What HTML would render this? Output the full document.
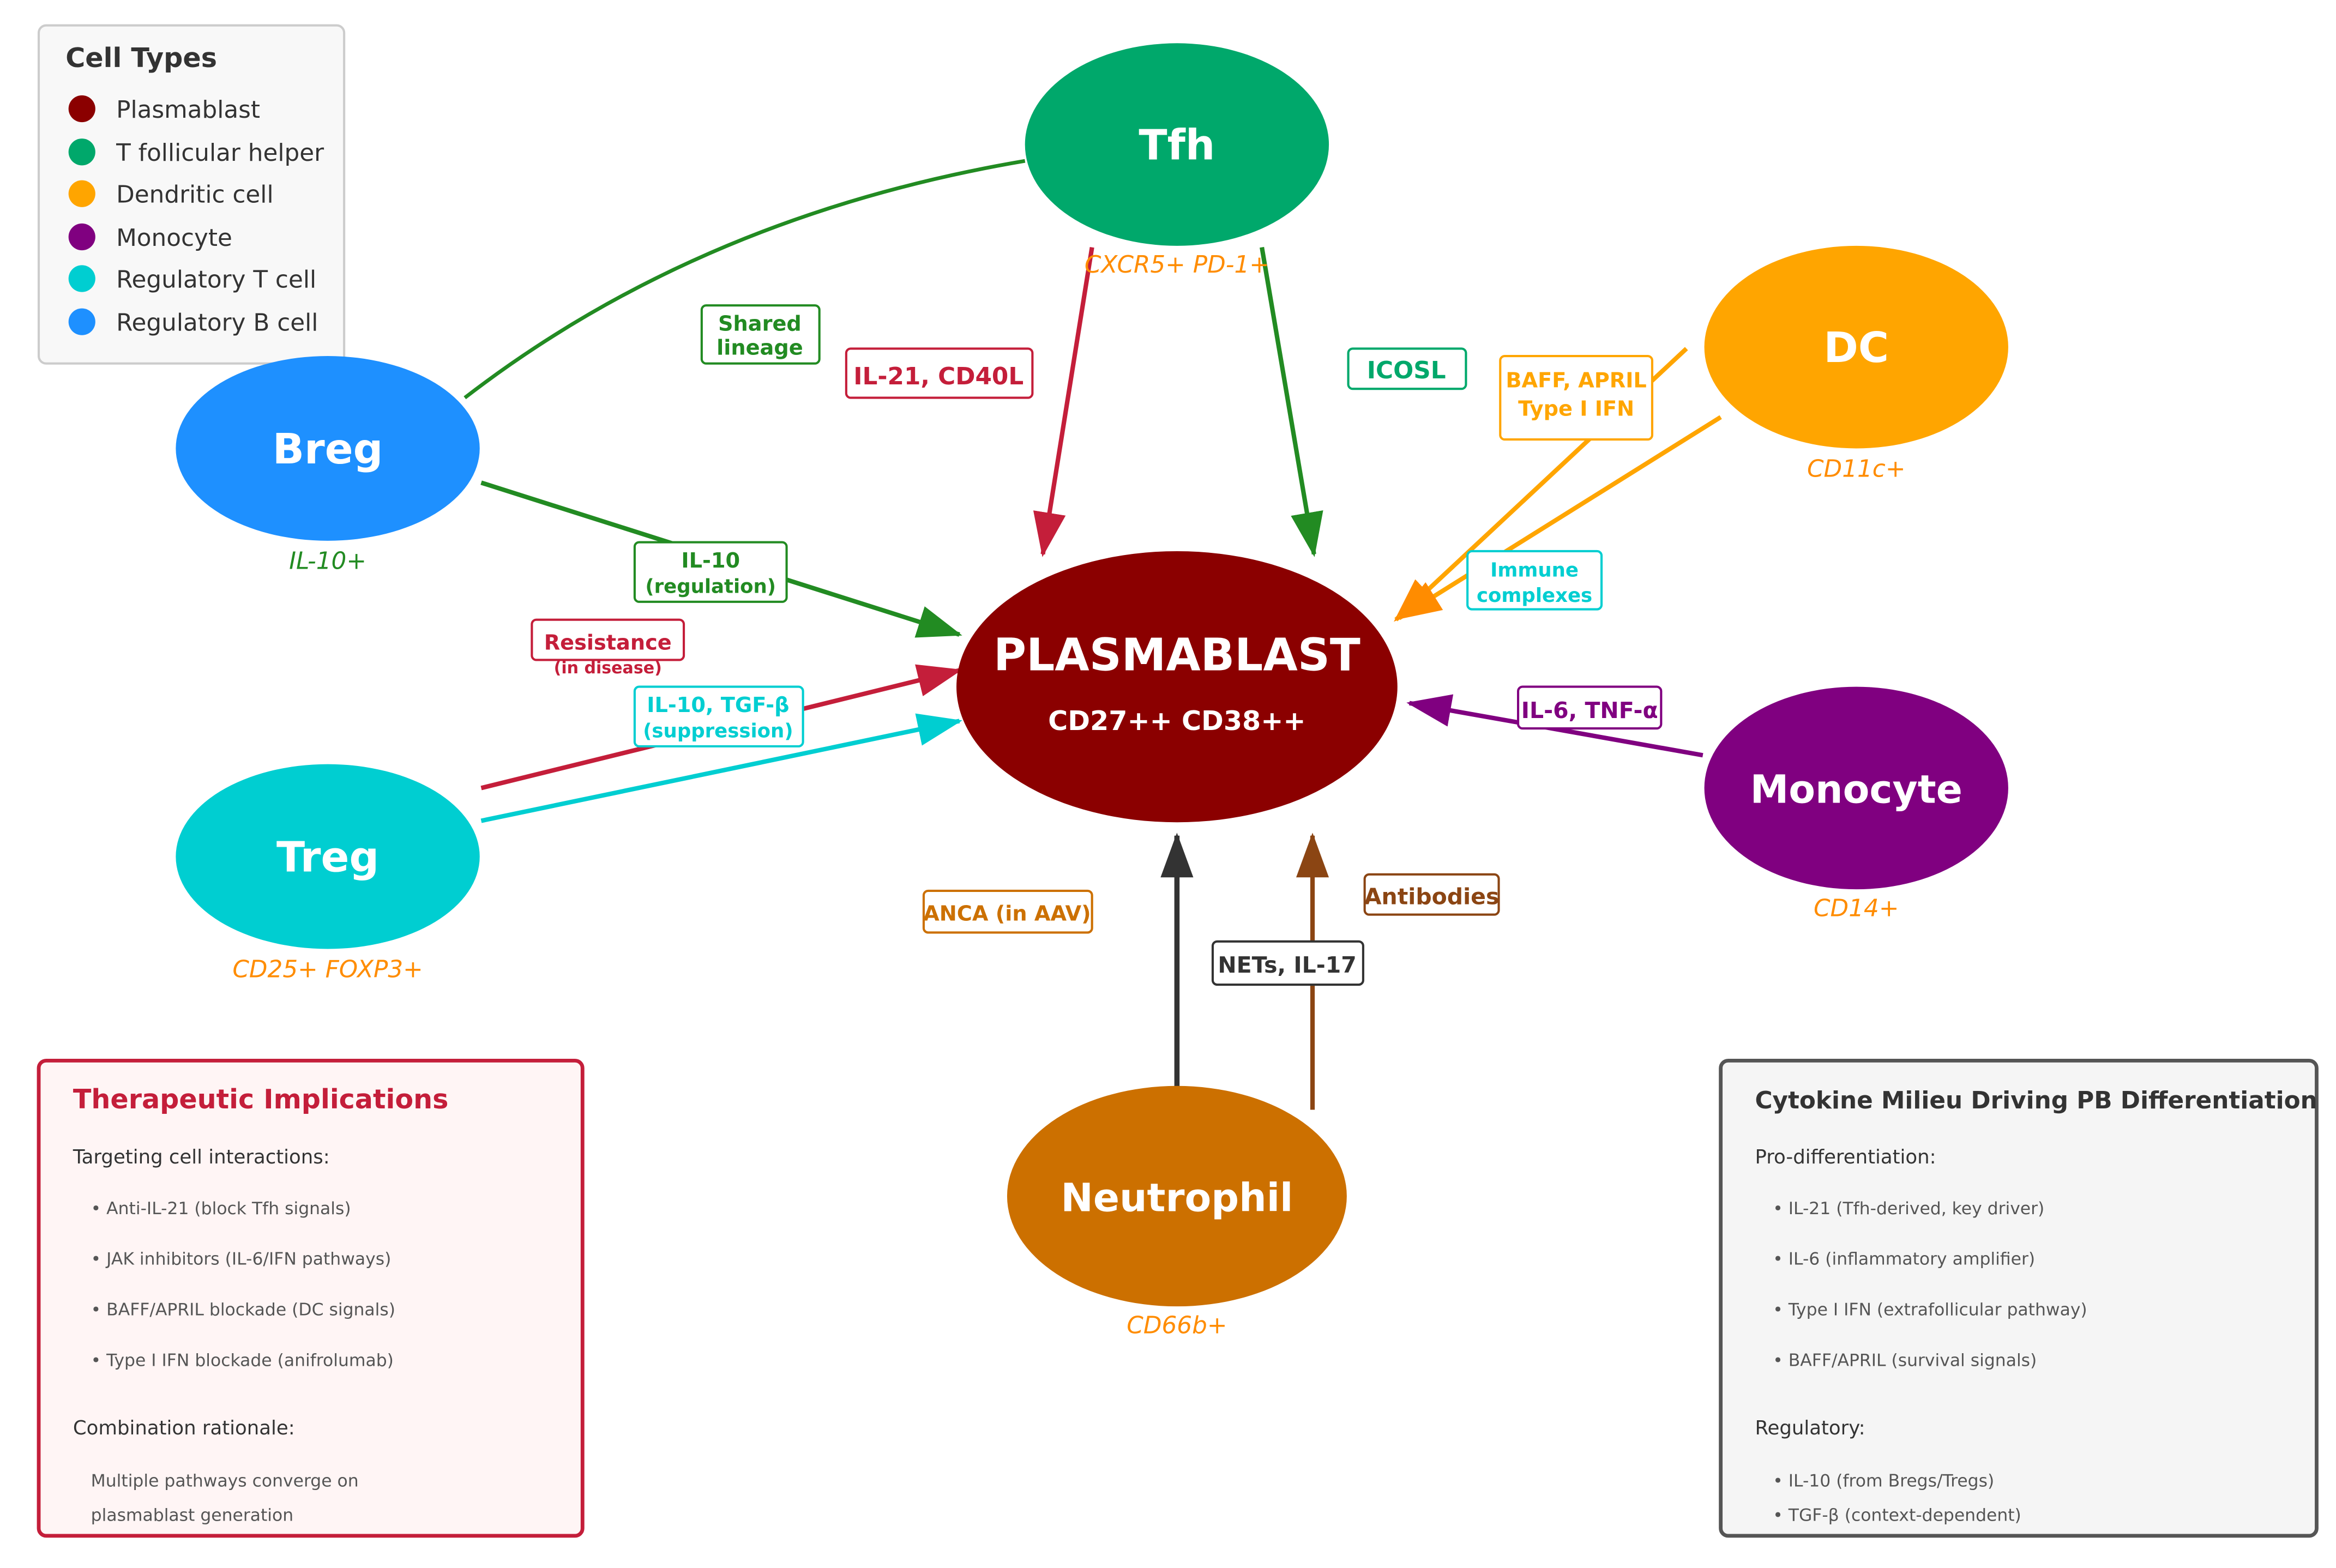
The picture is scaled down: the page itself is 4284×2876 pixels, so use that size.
<!DOCTYPE html>
<html><head><meta charset="utf-8"><style>html,body{margin:0;padding:0;background:#fff}svg{display:block}text{font-family:"DejaVu Sans","Liberation Sans",sans-serif}</style></head>
<body>
<svg width="4284" height="2876" viewBox="0 0 1568 1052.6" xmlns="http://www.w3.org/2000/svg">
<defs>
<marker id="aR" markerUnits="userSpaceOnUse" markerWidth="30" markerHeight="22" refX="28" refY="11" orient="auto"><path d="M0,0 L30,11 L0,22 Z" fill="#c41e3a"/></marker>
<marker id="aG" markerUnits="userSpaceOnUse" markerWidth="30" markerHeight="22" refX="28" refY="11" orient="auto"><path d="M0,0 L30,11 L0,22 Z" fill="#228b22"/></marker>
<marker id="aC" markerUnits="userSpaceOnUse" markerWidth="30" markerHeight="22" refX="28" refY="11" orient="auto"><path d="M0,0 L30,11 L0,22 Z" fill="#00ced1"/></marker>
<marker id="aO" markerUnits="userSpaceOnUse" markerWidth="30" markerHeight="22" refX="28" refY="11" orient="auto"><path d="M0,0 L30,11 L0,22 Z" fill="#ff8c00"/></marker>
<marker id="aP" markerUnits="userSpaceOnUse" markerWidth="30" markerHeight="22" refX="28" refY="11" orient="auto"><path d="M0,0 L30,11 L0,22 Z" fill="#800080"/></marker>
<marker id="aK" markerUnits="userSpaceOnUse" markerWidth="30" markerHeight="22" refX="28" refY="11" orient="auto"><path d="M0,0 L30,11 L0,22 Z" fill="#333"/></marker>
<marker id="aB" markerUnits="userSpaceOnUse" markerWidth="30" markerHeight="22" refX="28" refY="11" orient="auto"><path d="M0,0 L30,11 L0,22 Z" fill="#8b4513"/></marker>
</defs>

<path d="M312,267 Q470,145 688,108" fill="none" stroke="#228b22" stroke-width="2.5"/>
<line x1="733" y1="166" x2="700" y2="372" stroke="#c41e3a" stroke-width="3" marker-end="url(#aR)"/>
<line x1="847" y1="166" x2="882" y2="372" stroke="#228b22" stroke-width="3" marker-end="url(#aG)"/>
<line x1="323" y1="324" x2="644" y2="426" stroke="#228b22" stroke-width="3" marker-end="url(#aG)"/>
<line x1="323" y1="529" x2="644" y2="450" stroke="#c41e3a" stroke-width="3" marker-end="url(#aR)"/>
<line x1="323" y1="551" x2="644" y2="484" stroke="#00ced1" stroke-width="3" marker-end="url(#aC)"/>
<line x1="1132" y1="234" x2="937" y2="416" stroke="#ffa500" stroke-width="3" marker-end="url(#aO)"/>
<line x1="1155" y1="280" x2="939" y2="415" stroke="#ffa500" stroke-width="3" marker-end="url(#aO)"/>
<line x1="1143" y1="507" x2="946" y2="472" stroke="#800080" stroke-width="3" marker-end="url(#aP)"/>
<line x1="790" y1="730" x2="790" y2="561" stroke="#333" stroke-width="3.5" marker-end="url(#aK)"/>
<line x1="881" y1="745" x2="881" y2="561" stroke="#8b4513" stroke-width="3" marker-end="url(#aB)"/>

<rect x="26" y="17" width="205" height="227" rx="5" fill="#f8f8f8" stroke="#ccc" stroke-width="1.5"/>
<text x="44" y="45" font-size="18" font-weight="bold" fill="#333">Cell Types</text>
<g font-size="16" fill="#333">
<circle cx="55" cy="73" r="9" fill="#8b0000"/><text x="78" y="79">Plasmablast</text>
<circle cx="55" cy="102" r="9" fill="#00a86b"/><text x="78" y="108">T follicular helper</text>
<circle cx="55" cy="130" r="9" fill="#ffa500"/><text x="78" y="136">Dendritic cell</text>
<circle cx="55" cy="159" r="9" fill="#800080"/><text x="78" y="165">Monocyte</text>
<circle cx="55" cy="187" r="9" fill="#00ced1"/><text x="78" y="193">Regulatory T cell</text>
<circle cx="55" cy="216" r="9" fill="#1e90ff"/><text x="78" y="222">Regulatory B cell</text>
</g>

<g font-weight="bold" fill="#fff" text-anchor="middle">
<ellipse cx="790" cy="97" rx="102" ry="68" fill="#00a86b"/><text x="790" y="107" font-size="28">Tfh</text>
<ellipse cx="1246" cy="233" rx="102" ry="68" fill="#ffa500"/><text x="1246" y="243" font-size="28">DC</text>
<ellipse cx="220" cy="301" rx="102" ry="62" fill="#1e90ff"/><text x="220" y="311" font-size="28">Breg</text>
<ellipse cx="790" cy="461" rx="148" ry="91" fill="#8b0000"/><text x="790" y="450" font-size="30">PLASMABLAST</text><text x="790" y="490" font-size="18">CD27++ CD38++</text>
<ellipse cx="1246" cy="529" rx="102" ry="68" fill="#800080"/><text x="1246" y="539" font-size="26">Monocyte</text>
<ellipse cx="220" cy="575" rx="102" ry="62" fill="#00ced1"/><text x="220" y="585" font-size="28">Treg</text>
<ellipse cx="790" cy="803" rx="114" ry="74" fill="#cc7000"/><text x="790" y="813" font-size="26">Neutrophil</text>
</g>
<g font-style="italic" font-size="16" text-anchor="middle" fill="#ff8c00">
<text x="790" y="183">CXCR5+ PD-1+</text>
<text x="1246" y="320">CD11c+</text>
<text x="220" y="382" fill="#228b22">IL-10+</text>
<text x="1246" y="615">CD14+</text>
<text x="220" y="656">CD25+ FOXP3+</text>
<text x="790" y="895">CD66b+</text>
</g>

<g font-weight="bold" text-anchor="middle" stroke-width="1.5">
<rect x="471" y="205" width="79" height="39" rx="3" fill="#fff" stroke="#228b22"/><text x="510" y="222" font-size="14" fill="#228b22">Shared</text><text x="510" y="238" font-size="14" fill="#228b22">lineage</text>
<rect x="568" y="234" width="125" height="33" rx="3" fill="#fff" stroke="#c41e3a"/><text x="630" y="258" font-size="16" fill="#c41e3a">IL-21, CD40L</text>
<rect x="905" y="234" width="79" height="27" rx="3" fill="#fff" stroke="#00a86b"/><text x="944" y="254" font-size="16" fill="#00a86b">ICOSL</text>
<rect x="1007" y="239" width="102" height="56" rx="3" fill="#fff" stroke="#ffa500"/><text x="1058" y="260" font-size="14" fill="#ffa500">BAFF, APRIL</text><text x="1058" y="279" font-size="14" fill="#ffa500">Type I IFN</text>
<rect x="985" y="370" width="90" height="39" rx="3" fill="#fff" stroke="#00ced1"/><text x="1030" y="387" font-size="13" fill="#00ced1">Immune</text><text x="1030" y="404" font-size="13" fill="#00ced1">complexes</text>
<rect x="426" y="364" width="102" height="40" rx="3" fill="#fff" stroke="#228b22"/><text x="477" y="381" font-size="14" fill="#228b22">IL-10</text><text x="477" y="398" font-size="13" fill="#228b22">(regulation)</text>
<rect x="357" y="416" width="102" height="27" rx="3" fill="#fff" stroke="#c41e3a"/><text x="408" y="436" font-size="14" fill="#c41e3a">Resistance</text><text x="408" y="452" font-size="11" fill="#c41e3a">(in disease)</text>
<rect x="426" y="461" width="113" height="40" rx="3" fill="#fff" stroke="#00ced1"/><text x="482" y="478" font-size="14" fill="#00ced1">IL-10, TGF-β</text><text x="482" y="495" font-size="13" fill="#00ced1">(suppression)</text>
<rect x="1019" y="461" width="96" height="28" rx="3" fill="#fff" stroke="#800080"/><text x="1067" y="482" font-size="15" fill="#800080">IL-6, TNF-α</text>
<rect x="620" y="598" width="113" height="28" rx="3" fill="#fff" stroke="#cc7000"/><text x="676" y="618" font-size="14" fill="#cc7000">ANCA (in AAV)</text>
<rect x="916" y="587" width="90" height="27" rx="3" fill="#fff" stroke="#8b4513"/><text x="961" y="607" font-size="15" fill="#8b4513">Antibodies</text>
<rect x="814" y="632" width="101" height="29" rx="3" fill="#fff" stroke="#333"/><text x="864" y="653" font-size="15" fill="#333">NETs, IL-17</text>
</g>

<rect x="26" y="712" width="365" height="319" rx="5" fill="#fff5f5" stroke="#c41e3a" stroke-width="2.5"/>
<text x="49" y="744" font-size="18" font-weight="bold" fill="#c41e3a">Therapeutic Implications</text>
<g font-size="13" fill="#333">
<text x="49" y="781">Targeting cell interactions:</text>
<text x="49" y="963">Combination rationale:</text>
</g>
<g font-size="11.5" fill="#555">
<text x="61" y="815">• Anti-IL-21 (block Tfh signals)</text>
<text x="61" y="849">• JAK inhibitors (IL-6/IFN pathways)</text>
<text x="61" y="883">• BAFF/APRIL blockade (DC signals)</text>
<text x="61" y="917">• Type I IFN blockade (anifrolumab)</text>
<text x="61" y="998">Multiple pathways converge on</text>
<text x="61" y="1021">plasmablast generation</text>
</g>

<rect x="1155" y="712" width="400" height="319" rx="5" fill="#f5f5f5" stroke="#555" stroke-width="2.5"/>
<text x="1178" y="744" font-size="16" font-weight="bold" fill="#333">Cytokine Milieu Driving PB Differentiation</text>
<g font-size="13" fill="#333">
<text x="1178" y="781">Pro-differentiation:</text>
<text x="1178" y="963">Regulatory:</text>
</g>
<g font-size="11.5" fill="#555">
<text x="1190" y="815">• IL-21 (Tfh-derived, key driver)</text>
<text x="1190" y="849">• IL-6 (inflammatory amplifier)</text>
<text x="1190" y="883">• Type I IFN (extrafollicular pathway)</text>
<text x="1190" y="917">• BAFF/APRIL (survival signals)</text>
<text x="1190" y="998">• IL-10 (from Bregs/Tregs)</text>
<text x="1190" y="1021">• TGF-β (context-dependent)</text>
</g>
</svg>
</body></html>
